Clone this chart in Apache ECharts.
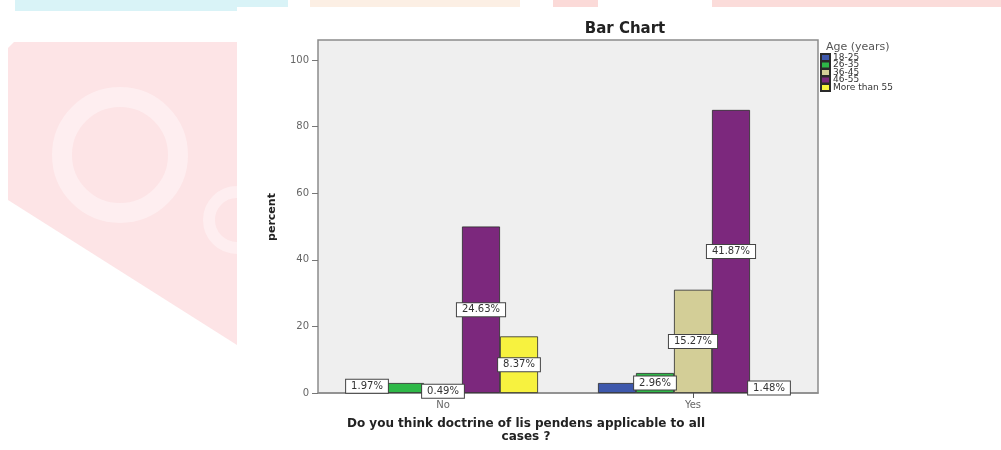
<!DOCTYPE html>
<html>
<head>
<meta charset="utf-8">
<script src="https://cdn.jsdelivr.net/npm/echarts@6/dist/echarts.min.js"></script>
<style>
  html, body { margin: 0; padding: 0; background: #ffffff; }
  #chart { width: 1001px; height: 450px; }
</style>
</head>
<body>
<div id="chart"></div>
<script>
// Answer categories and age groups
const categories = ['No', 'Yes'];
const ageGroups = ['18-25', '26-35', '36-45', '46-55', 'More than 55'];

// Respondent counts per answer (No, Yes) for each age group
const count18to25 = [4, 3];
const count26to35 = [3, 6];
const count36to45 = [1, 31];
const count46to55 = [50, 85];
const countOver55 = [17, 3];

// Which bar labels are printed (the others are suppressed where they collide)
const showLabel18to25 = [true, false];
const showLabel26to35 = [false, true];
const showLabel36to45 = [true, true];
const showLabel46to55 = [true, true];
const showLabelOver55 = [true, true];

// Value-axis tick labels
const yTickLabels = [0, 20, 40, 60, 80, 100];

const seriesCounts = [count18to25, count26to35, count36to45, count46to55, countOver55];
const seriesShowLabel = [showLabel18to25, showLabel26to35, showLabel36to45, showLabel46to55, showLabelOver55];
const palette = ['#3e58ac', '#2eb848', '#d3ce97', '#7c287d', '#f7f23f'];

const total = seriesCounts.reduce((s, arr) => s + arr.reduce((a, b) => a + b, 0), 0);
const pct = v => (v / total * 100).toFixed(2) + '%';

const FONT = 'DejaVu Sans';

const series = ageGroups.map((name, i) => ({
  name: name,
  type: 'bar',
  barGap: '0%',
  barCategoryGap: '24%',
  itemStyle: { color: palette[i], borderColor: '#2a2a2a', borderWidth: 0.8 },
  label: {
    show: true,
    position: 'inside',
    formatter: p => pct(p.value),
    fontFamily: FONT,
    fontSize: 10,
    color: '#333',
    backgroundColor: '#ffffff',
    borderColor: '#444',
    borderWidth: 1,
    padding: [2, 5, 1, 5]
  },
  data: seriesCounts[i].map((v, j) => ({
    value: v,
    label: { show: seriesShowLabel[i][j] }
  }))
}));

const chart = echarts.init(document.getElementById('chart'), null, { renderer: 'canvas' });

chart.setOption({
  animation: false,
  backgroundColor: '#ffffff',
  textStyle: { fontFamily: FONT },
  grid: {
    left: 318, top: 40, width: 500, height: 353,
    show: true,
    backgroundColor: '#efefef',
    borderColor: '#8c8c8c',
    borderWidth: 1.5
  },
  legend: {
    orient: 'vertical',
    left: 820,
    top: 53,
    padding: 0,
    itemWidth: 9,
    itemHeight: 7,
    itemGap: -1.5,
    icon: 'rect',
    data: ageGroups,
    textStyle: { fontFamily: FONT, fontSize: 9, color: '#333', padding: [0, 0, 0, -2] }
  },
  xAxis: {
    type: 'category',
    data: categories,
    axisLine: { show: true, lineStyle: { color: '#8c8c8c', width: 1.5 } },
    axisTick: { show: true, alignWithLabel: true, length: 5, lineStyle: { color: '#555' } },
    axisLabel: { fontFamily: FONT, fontSize: 10, color: '#666', margin: 7 },
    splitLine: { show: false }
  },
  yAxis: {
    type: 'value',
    min: 0,
    max: 106,
    interval: 20,
    axisLine: { show: false },
    axisTick: { show: true, length: 6, customValues: yTickLabels, lineStyle: { color: '#777' } },
    axisLabel: {
      fontFamily: FONT, fontSize: 10, color: '#666', margin: 9,
      customValues: yTickLabels
    },
    splitLine: { show: false }
  },
  graphic: [
    // faint page decoration behind the chart
    { type: 'rect', z: -10, silent: true, shape: { x: 15, y: 0, width: 273, height: 11 },
      style: { fill: '#d9f3f7' } },
    { type: 'rect', z: -10, silent: true, shape: { x: 310, y: 0, width: 210, height: 7 },
      style: { fill: '#fcefe4' } },
    { type: 'rect', z: -10, silent: true, shape: { x: 553, y: 0, width: 45, height: 7 },
      style: { fill: '#fbdad8' } },
    { type: 'rect', z: -10, silent: true, shape: { x: 712, y: 0, width: 289, height: 7 },
      style: { fill: '#fbdcda' } },
    { type: 'polygon', z: -10, silent: true,
      shape: { points: [[8, 48], [14, 42], [237, 42], [237, 345], [8, 200]] },
      style: { fill: '#fde4e6' } },
    { type: 'circle', z: -9, silent: true, shape: { cx: 120, cy: 155, r: 58 },
      style: { fill: 'none', stroke: '#fff6f7', lineWidth: 20, opacity: 0.55 } },
    { type: 'circle', z: -9, silent: true, shape: { cx: 237, cy: 220, r: 28 },
      style: { fill: 'none', stroke: '#fff6f7', lineWidth: 12, opacity: 0.55 } },
    // white sheet the chart sits on
    { type: 'rect', z: -8, silent: true, shape: { x: 237, y: 7, width: 764, height: 443 },
      style: { fill: '#ffffff' } },

    { type: 'text', x: 625, y: 29,
      style: { text: 'Bar Chart', fontFamily: FONT, fontWeight: 'bold', fontSize: 15, fill: '#222',
               align: 'center', verticalAlign: 'middle' } },
    { type: 'text', left: 826, top: 42,
      style: { text: 'Age (years)', fontFamily: FONT, fontSize: 11, fill: '#555' } },
    { type: 'text', x: 272, y: 217, rotation: Math.PI / 2,
      style: { text: 'percent', fontFamily: FONT, fontWeight: 'bold', fontSize: 11, fill: '#222',
               align: 'center', verticalAlign: 'middle' } },
    { type: 'text', x: 526, y: 417,
      style: { text: 'Do you think doctrine of lis pendens applicable to all\ncases ?',
               fontFamily: FONT, fontWeight: 'bold', fontSize: 12, lineHeight: 13, fill: '#222',
               align: 'center', verticalAlign: 'top' } }
  ],
  series: series
});
</script>
</body>
</html>
